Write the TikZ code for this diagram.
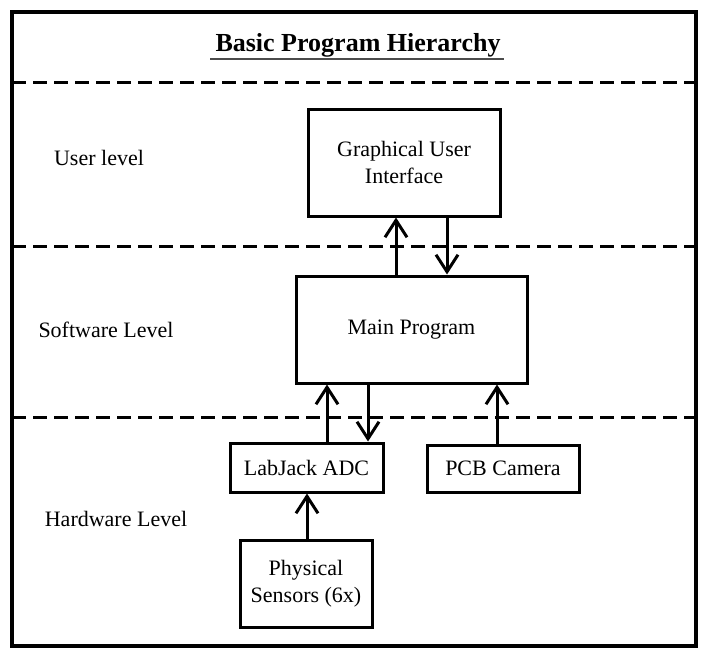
\documentclass[tikz,border=0pt]{standalone}
\usepackage{fontspec}
\setmainfont{Liberation Serif}
\usetikzlibrary{arrows.meta}

\begin{document}
\begin{tikzpicture}[x=1pt,y=-1pt,line join=miter,
  box/.style={draw,line width=3pt,inner sep=0pt,align=center,font=\fontsize{22}{27}\selectfont},
  lbl/.style={inner sep=0pt,font=\fontsize{22}{27}\selectfont},
  arr/.style={line width=3pt,-{Straight Barb[length=17pt,width=22pt]}},
  level/.style={line width=3pt,dash pattern=on 14pt off 7pt}]
\useasboundingbox (0,0) rectangle (711,656);
%%
\draw [line width=3.5pt] (12,12) rectangle (696,646);
\node (node_title) at (358,45) [inner sep=0pt,font=\bfseries\fontsize{26}{30}\selectfont] {Basic Program Hierarchy};
\draw [line width=2pt,black!70] (210,59) -- (504,59);
\draw [level] (12,82) -- (696,82);
\draw [level] (12,246) -- (696,246);
\draw [level] (12,417) -- (696,417);
%
\node (node_user) at (99,158) [lbl] {User level};
\node (node_soft) at (106,330) [lbl] {Software Level};
\node (node_hard) at (116,519) [lbl] {Hardware Level};
%
\node (node_gui) at (404,162.5) [box,minimum width=192pt,minimum height=107pt] {Graphical User\\Interface};
\node (node_main) at (411.5,329.5) [box,minimum width=231pt,minimum height=107pt] {Main Program};
\node (node_adc) at (306.5,467.5) [box,minimum width=153pt,minimum height=49pt] {LabJack ADC};
\node (node_cam) at (503,468.5) [box,minimum width=152pt,minimum height=47pt] {PCB Camera};
\node (node_sens) at (306,583.5) [box,minimum width=132pt,minimum height=87pt] {Physical\\Sensors (6x)};
%
\draw [arr] ([xshift=-15.5pt]node_main.north) -- ([xshift=-8pt]node_gui.south);
\draw [arr] ([xshift=43pt]node_gui.south) -- ([xshift=35.5pt]node_main.north);
\draw [arr] ([xshift=20.5pt]node_adc.north) -- ([xshift=-84.5pt]node_main.south);
\draw [arr] ([xshift=-43.5pt]node_main.south) -- ([xshift=61.5pt]node_adc.north);
\draw [arr] ([xshift=-6pt]node_cam.north) -- ([xshift=85.5pt]node_main.south);
\draw [arr] ([xshift=1pt]node_sens.north) -- ([xshift=0.5pt]node_adc.south);
%
\end{tikzpicture}
\end{document}
